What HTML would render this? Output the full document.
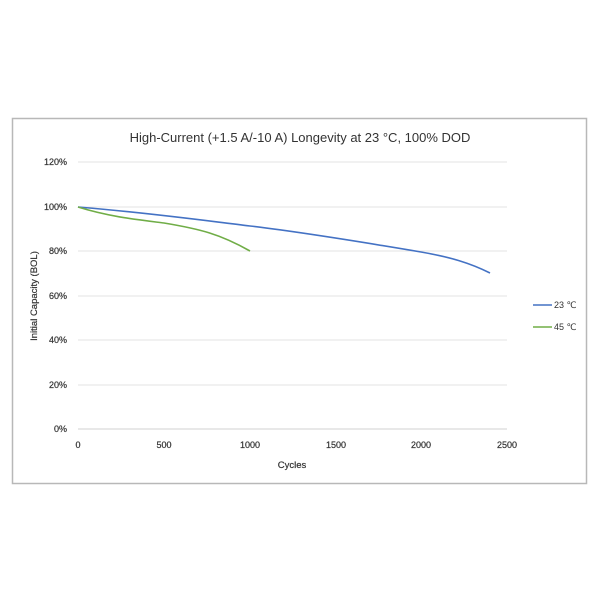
<!DOCTYPE html>
<html><head><style>body{margin:0;background:#fff;}</style></head><body>
<svg width="600" height="600" xmlns="http://www.w3.org/2000/svg" font-family="Liberation Sans, DejaVu Sans, sans-serif">
<rect x="12.5" y="118.5" width="574" height="365" fill="#fff" stroke="#b8b8b8" stroke-width="1.5"/>
<text x="300" y="142" font-size="13" text-anchor="middle" fill="#333">High-Current (+1.5 A/-10 A) Longevity at 23 °C, 100% DOD</text>
<g stroke="#e3e3e3" stroke-width="1">
<line x1="78" y1="162" x2="507" y2="162"/><line x1="78" y1="207" x2="507" y2="207"/>
<line x1="78" y1="251" x2="507" y2="251"/><line x1="78" y1="296" x2="507" y2="296"/>
<line x1="78" y1="340" x2="507" y2="340"/><line x1="78" y1="385" x2="507" y2="385"/>
</g>
<line x1="78" y1="429" x2="507" y2="429" stroke="#d0d0d0"/>
<g font-size="9" fill="#333" text-anchor="end" stroke="#333" stroke-width="0.2">
<text x="67" y="165">120%</text><text x="67" y="210">100%</text><text x="67" y="254">80%</text>
<text x="67" y="299">60%</text><text x="67" y="343">40%</text><text x="67" y="388">20%</text><text x="67" y="432">0%</text>
</g>
<g font-size="9" fill="#333" text-anchor="middle" stroke="#333" stroke-width="0.2">
<text x="78" y="448">0</text><text x="164" y="448">500</text><text x="250" y="448">1000</text>
<text x="336" y="448">1500</text><text x="421" y="448">2000</text><text x="507" y="448">2500</text>
</g>
<text x="292" y="468" font-size="9.5" fill="#333" text-anchor="middle" stroke="#333" stroke-width="0.2">Cycles</text>
<text transform="translate(37,296) rotate(-90)" font-size="9.5" fill="#333" text-anchor="middle" stroke="#333" stroke-width="0.2">Initial Capacity (BOL)</text>
<path d="M78,207 C150,213 200,220 250,226 S350,240 421,252 C450,257 470,263 490,273" fill="none" stroke="#4472c4" stroke-width="1.6"/>
<path d="M78,207 C110,217 140,220 164,223 C200,229 220,234 250,251" fill="none" stroke="#70ad47" stroke-width="1.6"/>
<line x1="533" y1="305" x2="552" y2="305" stroke="#4472c4" stroke-width="1.6"/>
<text x="554" y="308" font-size="9" fill="#333">23 ℃</text>
<line x1="533" y1="327" x2="552" y2="327" stroke="#70ad47" stroke-width="1.6"/>
<text x="554" y="330" font-size="9" fill="#333">45 ℃</text>
</svg>
</body></html>
